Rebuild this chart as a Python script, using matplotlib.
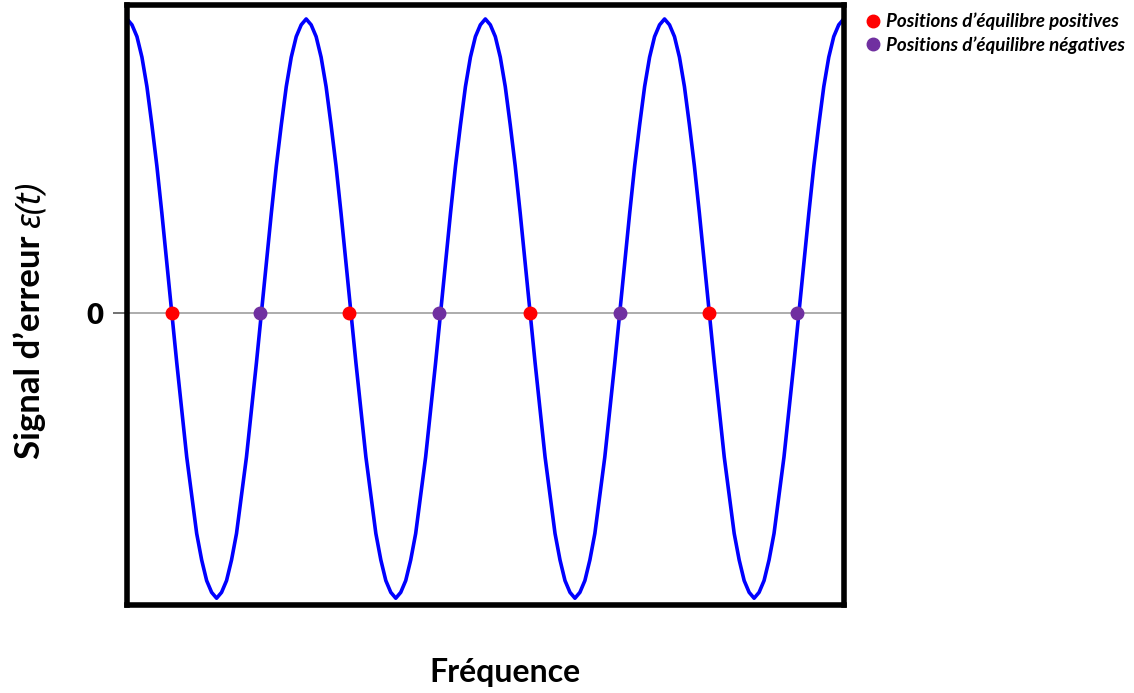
import numpy as np
import matplotlib
matplotlib.use("Agg")
import matplotlib.pyplot as plt
from matplotlib.lines import Line2D

plt.rcParams["font.family"] = ["Lato", "DejaVu Sans"]

# error signal, 36 samples per period, 4 periods
err = [1.00, 0.98, 0.94, 0.87, 0.77, 0.64, 0.50, 0.34, 0.17, 0.00, -0.17, -0.33,
       -0.49, -0.62, -0.75, -0.84, -0.91, -0.95, -0.97, -0.95, -0.91, -0.84, -0.75, -0.62,
       -0.49, -0.33, -0.17, 0.00, 0.17, 0.34, 0.50, 0.64, 0.77, 0.87, 0.94, 0.98,
       1.00, 0.98, 0.94, 0.87, 0.77, 0.64, 0.50, 0.34, 0.17, 0.00, -0.17, -0.33,
       -0.49, -0.62, -0.75, -0.84, -0.91, -0.95, -0.97, -0.95, -0.91, -0.84, -0.75, -0.62,
       -0.49, -0.33, -0.17, 0.00, 0.17, 0.34, 0.50, 0.64, 0.77, 0.87, 0.94, 0.98,
       1.00, 0.98, 0.94, 0.87, 0.77, 0.64, 0.50, 0.34, 0.17, 0.00, -0.17, -0.33,
       -0.49, -0.62, -0.75, -0.84, -0.91, -0.95, -0.97, -0.95, -0.91, -0.84, -0.75, -0.62,
       -0.49, -0.33, -0.17, 0.00, 0.17, 0.34, 0.50, 0.64, 0.77, 0.87, 0.94, 0.98,
       1.00, 0.98, 0.94, 0.87, 0.77, 0.64, 0.50, 0.34, 0.17, 0.00, -0.17, -0.33,
       -0.49, -0.62, -0.75, -0.84, -0.91, -0.95, -0.97, -0.95, -0.91, -0.84, -0.75, -0.62,
       -0.49, -0.33, -0.17, 0.00, 0.17, 0.34, 0.50, 0.64, 0.77, 0.87, 0.94, 0.98,
       1.00]
freq = np.arange(len(err)) / 36.0

# equilibrium positions (zero crossings)
eq_pos = [0.25, 1.24, 2.25, 3.25]
eq_neg = [0.74, 1.74, 2.75, 3.74]

fig = plt.figure(figsize=(11.34, 6.93), dpi=100)
ax = fig.add_axes([0.112, 0.127, 0.632, 0.866])

ax.axhline(0, color="#a6a6a6", lw=1.3, zorder=1)
ax.plot(freq, err, color="#0000ff", lw=2.6, zorder=2, solid_joinstyle="round")
ax.plot(eq_pos, [0] * len(eq_pos), "o", color="#ff0000", ms=9, zorder=3)
ax.plot(eq_neg, [0] * len(eq_neg), "o", color="#7030a0", ms=9, zorder=3)

ax.set_xlim(0, 4.0)
ax.set_ylim(-0.993, 1.048)
ax.set_xticks([])
ax.set_yticks([0])
ax.set_yticklabels(["0"])
ax.tick_params(axis="y", length=10, width=1.2, color="#595959", pad=7)
for t in ax.get_yticklabels():
    t.set_fontsize(21)
    t.set_fontweight("heavy")
for s in ax.spines.values():
    s.set_linewidth(4)
    s.set_color("black")

fig.text(0.445, 0.030, "Fréquence", fontsize=23, fontweight="bold",
         ha="center", va="center")

# y label: plain bold part + bold italic epsilon part, stacked upward
renderer = fig.canvas.get_renderer()
ylab_x, ylab_y0 = 0.035, 0.338
t1 = fig.text(ylab_x, ylab_y0, "Signal d’erreur ", fontsize=25, fontweight="bold",
              rotation=90, rotation_mode="anchor", ha="left", va="baseline")
h1 = t1.get_window_extent(renderer).height / fig.bbox.height
fig.text(ylab_x, ylab_y0 + h1, "ε(t)", fontsize=25, fontweight="bold", fontstyle="italic",
         family=["Noto Sans", "DejaVu Sans"],
         rotation=90, rotation_mode="anchor", ha="left", va="baseline")

handles = [Line2D([], [], ls="none", marker="o", color="#ff0000", ms=9),
           Line2D([], [], ls="none", marker="o", color="#7030a0", ms=9)]
fig.legend(handles, ["Positions d’équilibre positives", "Positions d’équilibre négatives"],
           loc="upper left", bbox_to_anchor=(0.745, 1.006), frameon=False,
           handletextpad=0.1, handlelength=1.2, labelspacing=0.3,
           prop={"size": 13.5, "weight": "bold", "style": "italic"})

fig.savefig("out.png", dpi=100)
